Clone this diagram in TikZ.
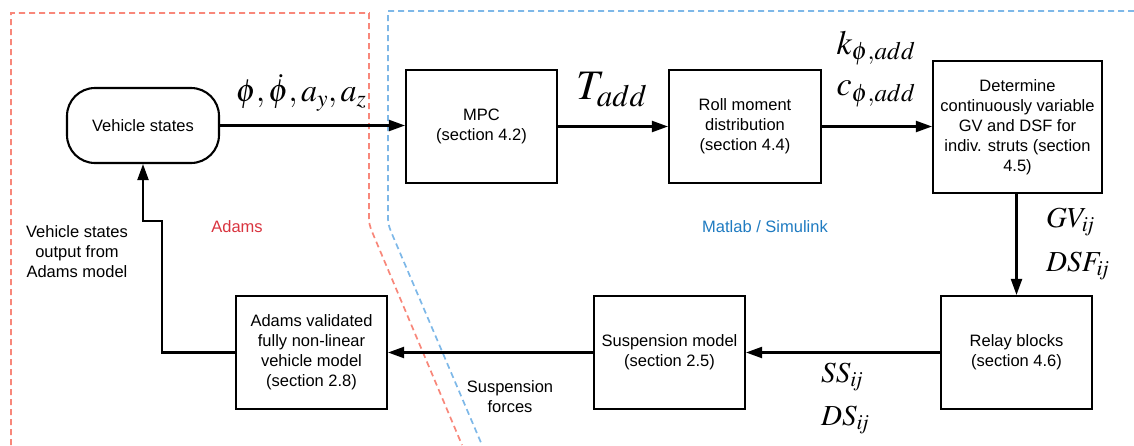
\documentclass[tikz,border=0pt]{standalone}
\usepackage{mathptmx}
\usepackage[no-math]{fontspec}
\setmainfont{Liberation Sans}
\usetikzlibrary{arrows.meta}
\definecolor{redline}{RGB}{248,135,122}
\definecolor{blueline}{RGB}{126,184,232}
\definecolor{adamsred}{RGB}{217,52,63}
\definecolor{matblue}{RGB}{31,123,193}
\begin{document}
\begin{tikzpicture}[x=1pt,y=-1pt,
  txt/.style={font=\fontsize{16.5}{20}\selectfont, align=center},
  blockbox/.style={draw, line width=2.1pt, txt, inner sep=2pt, minimum width=151pt, minimum height=113pt},
  conn/.style={line width=2.1pt, -{Triangle[length=16pt,width=11pt]}},
  region/.style={line width=1.7pt, dash pattern=on 6pt off 4pt},
  mathlbl/.style={font=\fontsize{29}{32}\selectfont, inner sep=0pt}
]
\useasboundingbox (0,0) rectangle (1134,445);
% regions
\draw[region, redline] (11,445) -- (11,13) -- (369,13) -- (369,214) .. controls (369,224) .. (373,234) -- (462,445);
\draw[region, blueline] (1134,11) -- (388,11) -- (388,214) .. controls (388,224) .. (392,234) -- (482,445);
% nodes
\node[draw, line width=2.1pt, rounded corners=28pt, txt, minimum width=152pt, minimum height=75pt] (vs) at (143,125.5) {Vehicle states};
\node[blockbox] (mpc) at (481.5,126.5) {MPC\\(section 4.2)};
\node[blockbox, minimum width=152pt] (roll) at (745,126.5) {Roll moment\\distribution\\(section 4.4)};
\node[blockbox, minimum width=169pt, minimum height=132pt] (det) at (1017.5,127) {Determine\\continuously variable\\GV and DSF for\\indiv. struts (section\\4.5)};
\node[blockbox] (relay) at (1016.5,352.5) {Relay blocks\\(section 4.6)};
\node[blockbox] (susp) at (669.5,352.5) {Suspension model\\(section 2.5)};
\node[blockbox] (adams) at (311.5,352.5) {Adams validated\\fully non-linear\\vehicle model\\(section 2.8)};
% connectors
\draw[conn] (vs.east) -- (mpc.west |- vs.east);
\draw[conn] (mpc.east) -- (roll.west);
\draw[conn] (roll.east) -- (det.west |- roll.east);
\draw[conn] (det.south -| relay.north) -- (relay.north);
\draw[conn] (relay.west) -- (susp.east);
\draw[conn] (susp.west) -- (adams.east);
\coordinate (j1) at (162,221);
\draw[conn] (adams.west) -| (j1) -| (vs.south);
% labels
\node[mathlbl, font=\fontsize{32}{34}\selectfont] (lphi) at (301,93) {$\phi, \dot{\phi}, a_y, a_z$};
\node[mathlbl, font=\fontsize{42}{44}\selectfont] (ltadd) at (612,90) {$T_{add}$};
\node[mathlbl, font=\fontsize{34}{36}\selectfont] (lk) at (876,48) {$k_{\phi,add}$};
\node[mathlbl, font=\fontsize{34}{36}\selectfont] (lc) at (876,94) {$c_{\phi,add}$};
\node[mathlbl, anchor=west] (lgv) at (1046,222) {$GV_{\mathit{ij}}$};
\node[mathlbl, anchor=west] (ldsf) at (1046,266) {$DSF_{\mathit{ij}}$};
\node[mathlbl, anchor=west] (lss) at (821,377) {$SS_{\mathit{ij}}$};
\node[mathlbl, anchor=west] (lds) at (821,420) {$DS_{\mathit{ij}}$};
\node[txt] (lforces) at (510,397) {Suspension\\forces};
\node[txt] (lout) at (77,252) {Vehicle states\\output from\\Adams model};
\node[txt, text=adamsred] (ladams) at (237,227) {Adams};
\node[txt, text=matblue] (lmat) at (765,227) {Matlab / Simulink};
\end{tikzpicture}
\end{document}
